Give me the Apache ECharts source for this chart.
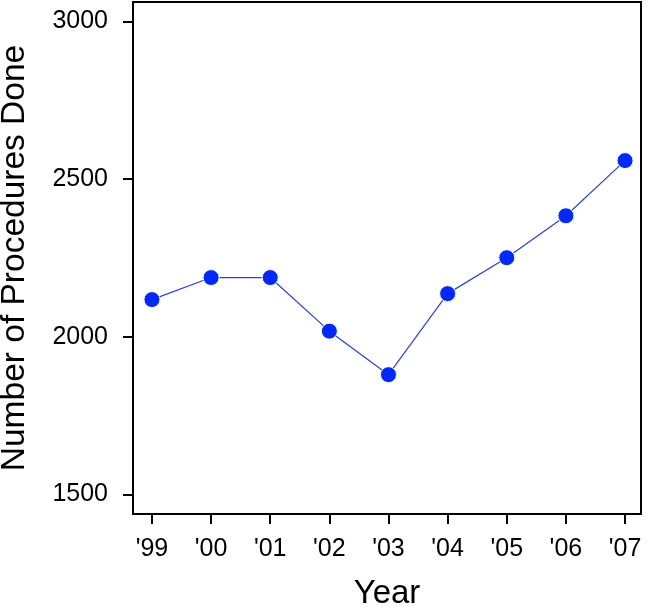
<!DOCTYPE html>
<html>
<head>
<meta charset="utf-8">
<script src="https://cdn.jsdelivr.net/npm/echarts@6/dist/echarts.min.js"></script>
<style>html,body{margin:0;padding:0;background:#fff}#c{width:647px;height:607px}</style>
</head>
<body>
<div id="c"></div>
<script>
const categories = ["'99", "'00", "'01", "'02", "'03", "'04", "'05", "'06", "'07"];
const procedures = [2118, 2188, 2188, 2018, 1880, 2137, 2251, 2384, 2559];
const yTicks = [1500, 2000, 2500, 3000];

const xIdx = categories.map((c, i) => i);
const data = procedures.map((v, i) => [i, v]);
const font = '"Liberation Sans", Arial, sans-serif';

const chart = echarts.init(document.getElementById('c'), null, {renderer: 'canvas'});
chart.setOption({
  animation: false,
  backgroundColor: '#fff',
  grid: {left: 133, right: 6, top: 2, bottom: 93, show: true, borderColor: '#000', borderWidth: 2,
    backgroundColor: 'transparent', containLabel: false, outerBoundsMode: 'none'},
  xAxis: {
    type: 'value', min: -0.32, max: 8.27,
    name: 'Year', nameLocation: 'middle', nameGap: 63,
    nameTextStyle: {fontFamily: font, fontSize: 33, color: '#000'},
    axisLine: {show: true, onZero: false, lineStyle: {color: '#000', width: 2}},
    axisTick: {show: true, customValues: xIdx, length: 10, lineStyle: {color: '#000', width: 2}},
    axisLabel: {customValues: xIdx, margin: 23, fontFamily: font, fontSize: 25, color: '#000',
      formatter: v => categories[Math.round(v)]},
    splitLine: {show: false}
  },
  yAxis: {
    type: 'value', min: 1438, max: 3062,
    name: 'Number of Procedures Done', nameLocation: 'middle', nameGap: 101,
    nameTextStyle: {fontFamily: font, fontSize: 33.5, color: '#000'},
    axisLine: {show: true, onZero: false, lineStyle: {color: '#000', width: 2}},
    axisTick: {show: true, customValues: yTicks, length: 10, lineStyle: {color: '#000', width: 2}},
    axisLabel: {customValues: yTicks, margin: 25, fontFamily: font, fontSize: 25, color: '#000',
      formatter: v => String(Math.round(v))},
    splitLine: {show: false}
  },
  series: [{
    type: 'line', data: data,
    symbol: 'circle', symbolSize: 16,
    lineStyle: {color: '#2a3ff0', width: 1.2},
    itemStyle: {color: '#0028ff', borderColor: '#fff', borderWidth: 1},
    z: 3
  }]
});
</script>
</body>
</html>
